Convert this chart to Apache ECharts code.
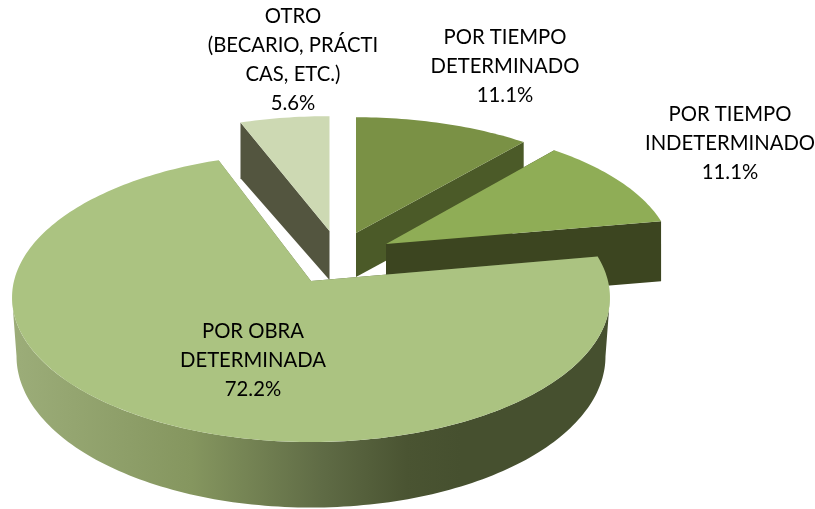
<!DOCTYPE html>
<html lang="en">
<head>
    <meta charset="UTF-8">
    <title>Tipo de contrato</title>
    <script src="https://cdn.jsdelivr.net/npm/echarts@6/dist/echarts.min.js"></script>
    <style>html,body{margin:0;padding:0;background:#fff;}</style>
</head>
<body>
<div id="main" style="width: 815px;height:509px;"></div>
<script type="text/javascript">
    var categories = ['POR TIEMPO\nDETERMINADO', 'POR TIEMPO\nINDETERMINADO', 'POR OBRA\nDETERMINADA', 'OTRO\n(BECARIO, PRÁCTI\nCAS, ETC.)'];
    var values = [11.1, 11.1, 72.2, 5.6];

    // 3D look: one entry per slice, in the same order as the data
    var topColors = ['#7a9145', '#8fad56', '#abc381', '#cdd9b3'];
    var wallColors = ['#4b5a28', '#3c4520', null, '#53553f'];
    var origins = [[356, 233], [386, 244], [311, 281], [329.5, 231]];
    var radiusX = [284, 285, 297, 286];
    var radiusY = [129, 133, 142.6, 128];
    var depths = [44, 60, 58, 49];
    var depthPersp = [0, 0, 0.1145, -0.13];
    var shrinks = [0, 0, 0.015, 0];
    var zOrder = [1, 2, 3, 1];
    var labelPos = [[505, 66], [730, 143], [253, 360], [293, 59.5]];
    var persp = 0.1145;

    var total = values.reduce(function (a, b) { return a + b; }, 0);
    var bigWall = new echarts.graphic.LinearGradient(12, 0, 610, 0, [
        { offset: 0, color: '#9cad79' },
        { offset: 0.3, color: '#85965f' },
        { offset: 0.52, color: '#5f6b45' },
        { offset: 0.66, color: '#4a5432' },
        { offset: 0.75, color: '#46502f' },
        { offset: 1, color: '#46502f' }
    ], true);

    // slice i, clockwise angle from 12 o'clock, r 0..1, level 0=top 1=bottom
    function project(i, angle, r, level) {
        var s = Math.sin(angle) * r, c = Math.cos(angle) * r;
        var w = 1 + persp * c;
        var shrink = 1 - shrinks[i] * level;
        return [
            origins[i][0] + radiusX[i] * s / w * shrink,
            origins[i][1] - radiusY[i] * c / w + depths[i] * level / (1 + depthPersp[i] * c)
        ];
    }

    function rim(i, a0, a1, level) {
        var pts = [];
        var steps = Math.max(4, Math.ceil((a1 - a0) / 0.02));
        for (var k = 0; k <= steps; k++) {
            pts.push(project(i, a0 + (a1 - a0) * k / steps, 1, level));
        }
        return pts;
    }

    function renderSlice(params, api) {
        var i = params.dataIndex;
        var before = 0;
        for (var j = 0; j < i; j++) before += values[j];
        var a0 = before / total * Math.PI * 2;
        var a1 = (before + api.value(0)) / total * Math.PI * 2;
        var wall = wallColors[i] || bigWall;
        var z = zOrder[i] * 10;

        var walls = [
            [project(i, a0, 0, 0), project(i, a0, 1, 0), project(i, a0, 1, 1), project(i, a0, 0, 1)],
            [project(i, a1, 0, 0), project(i, a1, 1, 0), project(i, a1, 1, 1), project(i, a1, 0, 1)]
        ];
        // only the front part of the outer wall shows, cut at the silhouette so the side edge stays straight
        var edge = Math.acos(-persp);
        var f0 = Math.max(a0, edge), f1 = Math.min(a1, Math.PI * 2 - edge);
        if (f1 > f0) walls.push(rim(i, f0, f1, 0).concat(rim(i, f0, f1, 1).reverse()));

        var children = walls.map(function (pts) {
            return { type: 'polygon', z2: z, shape: { points: pts }, style: { fill: wall } };
        });
        children.push({
            type: 'polygon',
            z2: z + 1,
            shape: { points: [project(i, a0, 0, 0)].concat(rim(i, a0, a1, 0)) },
            style: { fill: topColors[i] }
        });
        children.push({
            type: 'text',
            z2: 100,
            x: labelPos[i][0],
            y: labelPos[i][1],
            style: {
                text: categories[i] + '\n' + api.value(0).toFixed(1) + '%',
                fill: '#000',
                font: '20.3px Lato',
                lineHeight: 29,
                align: 'center',
                verticalAlign: 'middle'
            }
        });
        return { type: 'group', children: children };
    }

    var myChart = echarts.init(document.getElementById('main'));
    var option = {
        animation: false,
        series: [
            {
                type: 'custom',
                coordinateSystem: 'none',
                renderItem: renderSlice,
                data: values.map(function (v) { return [v]; })
            }
        ]
    };
    myChart.setOption(option);
</script>
</body>
</html>
